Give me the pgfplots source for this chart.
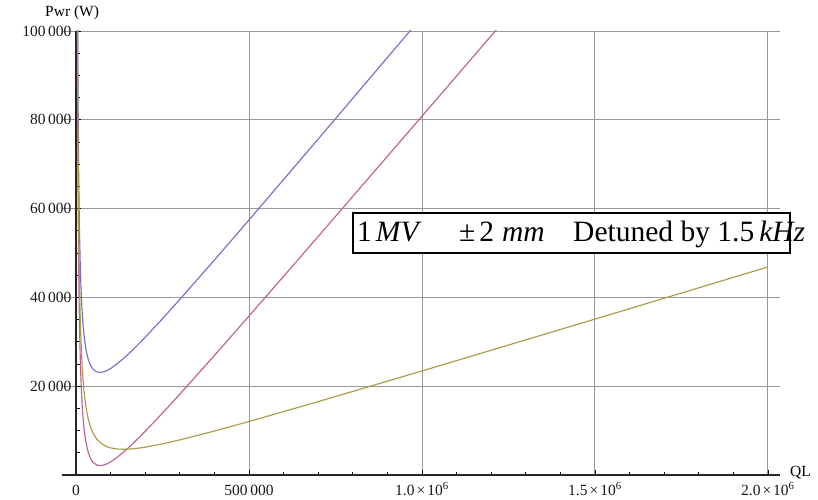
\documentclass[border=0pt]{standalone}
\usepackage{fontspec}
\setmainfont{Liberation Serif}
\usepackage{pgfplots}
\pgfplotsset{compat=1.18}
\definecolor{mblue}{RGB}{112,112,205}
\definecolor{mmag}{RGB}{190,95,150}
\definecolor{myel}{RGB}{170,155,70}
\begin{document}
\begin{tikzpicture}
\path[use as bounding box] (0pt,0pt) rectangle (818pt,499pt);
\begin{axis}[
  at={(62pt,24pt)}, anchor=south west,
  scale only axis, width=718pt, height=444pt,
  xmin=-40500, xmax=2035000, ymin=0, ymax=100000,
  axis lines=middle,
  every inner x axis line/.append style={-},
  every inner y axis line/.append style={-},
  axis line style={black!85, line width=1.1pt},
  hide obscured x ticks=false,
  hide obscured y ticks=false,
  scaled ticks=false,
  xtick={0,500000,1000000,1500000,2000000},
  xticklabels={0, 500\,000, 1.0\kern2pt×\kern2pt10\textsuperscript{6}, 1.5\kern2pt×\kern2pt10\textsuperscript{6}, 2.0\kern2pt×\kern2pt10\textsuperscript{6}},
  ytick={20000,40000,60000,80000,100000},
  yticklabels={20\,000, 40\,000, 60\,000, 80\,000, 100\,000},
  minor xtick={100000,200000,300000,400000,600000,700000,800000,900000,1100000,1200000,1300000,1400000,1600000,1700000,1800000,1900000},
  minor ytick={5000,10000,15000,25000,30000,35000,45000,50000,55000,65000,70000,75000,85000,90000,95000},
  tick align=inside,
  major tick length=5pt, minor tick length=3.5pt,
  tick style={black, line width=0.8pt},
  minor tick style={black, line width=0.8pt},
  grid=major,
  major grid style={gray!80, line width=0.9pt},
  minor grid style={draw=none},
  ticklabel style={font=\fontsize{15.5}{18}\selectfont, text=black!90},
  xticklabel style={anchor=base, yshift=-20pt},
  yticklabel style={anchor=east, xshift=-1pt},
]
\addplot[mblue, line width=1.15pt] coordinates {
(4000,120720)(4500,108544)(5000,98812)(5500,90858)(6000,84237)(7000,73854)(8000,66089)(9000,60071)(10000,55274)(12000,48126)(14000,43073)(16000,39328)(18000,36457)(20000,34198)(23000,31605)(26000,29675)(30000,27789)(35000,26155)(40000,25046)(45000,24286)(50000,23770)(60000,23227)(70000,23104)(80000,23242)(90000,23555)(100000,23990)(120000,25105)(140000,26429)(160000,27884)(180000,29426)(200000,31030)(250000,35210)(300000,39537)(400000,48410)(500000,57430)(700000,75659)(1000000,103190)
};
\addplot[mmag, line width=1.15pt] coordinates {
(3500,115492)(4000,99824)(4500,87647)(5000,77915)(5500,69960)(6000,63338)(7000,52953)(8000,45187)(9000,39167)(10000,34369)(12000,27218)(14000,22162)(16000,18414)(18000,15540)(20000,13278)(23000,10681)(26000,8746)(30000,6854)(35000,5213)(40000,4096)(45000,3329)(50000,2805)(60000,2247)(70000,2109)(80000,2232)(90000,2530)(100000,2950)(120000,4035)(140000,5329)(160000,6754)(180000,8266)(200000,9840)(250000,13945)(300000,18197)(400000,26920)(500000,35790)(700000,53719)(1000000,80800)(1200000,98907)(1300000,107968)
};
\addplot[myel, line width=1.15pt] coordinates {
(4000,109435)(4500,97224)(5000,87458)(5500,79470)(6000,72815)(7000,62363)(8000,54529)(9000,48442)(10000,43577)(12000,36291)(14000,31100)(16000,27218)(18000,24210)(20000,21813)(23000,19014)(26000,16878)(30000,14717)(35000,12739)(40000,11286)(45000,10182)(50000,9323)(60000,8092)(70000,7282)(80000,6732)(90000,6358)(100000,6105)(120000,5845)(140000,5794)(160000,5874)(180000,6041)(200000,6270)(250000,7013)(300000,7902)(400000,9900)(500000,12045)(700000,16524)(1000000,23430)(1500000,35108)(2000000,46860)
};
\end{axis}
\node[anchor=base west, inner sep=0pt, font=\fontsize{15.5}{18}\selectfont] at (45pt,482pt) {Pwr (W)};
\node[anchor=base west, inner sep=0pt, font=\fontsize{15.5}{18}\selectfont] at (790pt,23pt) {QL};
\draw[line width=1.3pt, fill=white] (353pt,246pt) rectangle (790pt,286pt);
\begin{scope}[every node/.style={anchor=base west, inner sep=0pt, font=\fontsize{29.5}{34}\selectfont}]
\node at (357pt,258pt) {1\kern4pt\textit{MV}};
\node at (459pt,258pt) {±\kern4pt2\kern8pt\textit{mm}};
\node at (573pt,258pt) {Detuned by 1.5\kern5pt\textit{kHz}};
\end{scope}
\end{tikzpicture}
\end{document}
